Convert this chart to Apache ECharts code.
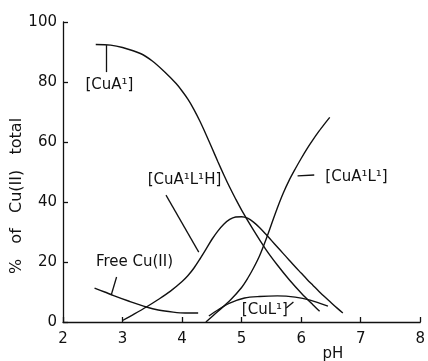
<!DOCTYPE html>
<html>
<head>
<meta charset="utf-8">
<script src="https://cdn.jsdelivr.net/npm/echarts@6/dist/echarts.min.js"></script>
<style>
  html, body { margin: 0; padding: 0; background: #fff; }
  #chart { width: 428px; height: 361px; }
</style>
</head>
<body>
<div id="chart"></div>
<script>
// values (pH vs % of total Cu(II))
var cuA1_pH   = [2.55, 2.8, 3.0, 3.3, 3.5, 3.7, 3.9, 4.0, 4.1, 4.2, 4.3, 4.4, 4.5, 4.6, 4.7, 4.8, 4.9, 5.0, 5.2, 5.4, 5.6, 5.8, 6.0, 6.2, 6.31];
var cuA1_pct  = [92.5, 92.3, 91.5, 89.5, 87, 83.5, 79.5, 77, 74.2, 70.8, 66.9, 62.6, 58.1, 53.5, 49.1, 44.9, 41, 37.3, 30.6, 24.4, 19, 14.1, 9.7, 5.7, 3.6];

var cuA1L1H_pH  = [3.0, 3.2, 3.4, 3.6, 3.8, 4.0, 4.1, 4.2, 4.3, 4.4, 4.5, 4.6, 4.7, 4.8, 4.9, 5.0, 5.1, 5.2, 5.3, 5.4, 5.5, 5.6, 5.7, 5.8, 5.9, 6.0, 6.1, 6.2, 6.3, 6.4, 6.5, 6.6, 6.7];
var cuA1L1H_pct = [0.5, 2.7, 5, 7.5, 10.2, 13.5, 15.5, 18, 21, 24.2, 27.5, 30.3, 32.6, 34.2, 35, 35.1, 34.6, 33.3, 31.5, 29.4, 27.2, 25, 22.8, 20.6, 18.4, 16.3, 14.2, 12.2, 10.2, 8.3, 6.5, 4.7, 3];

var cuA1L1_pH  = [4.4, 4.6, 4.82, 5.0, 5.1, 5.2, 5.3, 5.4, 5.5, 5.6, 5.7, 5.8, 5.9, 6.0, 6.1, 6.2, 6.3, 6.4, 6.48];
var cuA1L1_pct = [0, 3.5, 7.5, 11.5, 14.5, 18, 22, 27, 32.5, 38, 43, 47.3, 51, 54.5, 57.8, 60.8, 63.6, 66.2, 68.2];

var freeCu_pH  = [2.53, 2.7, 2.85, 3.1, 3.4, 3.6, 3.85, 4.05, 4.27];
var freeCu_pct = [11.3, 10, 8.8, 7, 5, 4, 3.3, 3, 3];

var cuL1_pH  = [4.45, 4.6, 4.8, 5.05, 5.3, 5.6, 5.9, 6.15, 6.45];
var cuL1_pct = [2, 4, 6.3, 8, 8.5, 8.7, 8.3, 7.3, 5.3];

var xTicks = [2, 3, 4, 5, 6, 7, 8];
var yTicks = [0, 20, 40, 60, 80, 100];

var font = 'DejaVu Sans';

function pairs(xs, ys) {
  return xs.map(function (x, i) { return [x, ys[i]]; });
}

// label text + its leader line, both in data coordinates
function tag(text, at, from, to) {
  return {
    markPoint: {
      symbol: 'circle',
      symbolSize: 0,
      silent: true,
      label: {
        show: true,
        position: 'inside',
        formatter: text,
        color: '#111',
        fontFamily: font,
        fontSize: 15
      },
      data: [{ coord: at }]
    },
    markLine: {
      symbol: 'none',
      silent: true,
      label: { show: false },
      lineStyle: { color: '#111', width: 1.3, type: 'solid' },
      data: [[{ coord: from }, { coord: to }]]
    }
  };
}

function curve(name, xs, ys, t) {
  var s = {
    name: name,
    type: 'line',
    smooth: 0.3,
    showSymbol: false,
    silent: true,
    lineStyle: { color: '#111', width: 1.4 },
    data: pairs(xs, ys)
  };
  s.markPoint = t.markPoint;
  s.markLine = t.markLine;
  return s;
}

var myChart = echarts.init(document.getElementById('chart'));

var option = {
  animation: false,
  backgroundColor: '#fff',
  grid: { left: 63, right: 3, top: 22, bottom: 39 },
  xAxis: {
    type: 'value',
    min: xTicks[0],
    max: xTicks[xTicks.length - 1],
    interval: 1,
    axisLine: { lineStyle: { color: '#111', width: 1.3 } },
    axisTick: { inside: true, length: 5, lineStyle: { color: '#111', width: 1.3 } },
    axisLabel: { color: '#111', fontFamily: font, fontSize: 15, margin: 10, showMaxLabel: true },
    splitLine: { show: false }
  },
  yAxis: {
    type: 'value',
    min: yTicks[0],
    max: yTicks[yTicks.length - 1],
    interval: 20,
    axisLine: { show: true, lineStyle: { color: '#111', width: 1.3 } },
    axisTick: { show: true, inside: true, length: 5, lineStyle: { color: '#111', width: 1.3 } },
    axisLabel: { color: '#111', fontFamily: font, fontSize: 15, margin: 6 },
    splitLine: { show: false }
  },
  graphic: [
    {
      type: 'text',
      x: 17, y: 196,
      rotation: Math.PI / 2,
      style: {
        text: '%   of   Cu(II)   total',
        font: '16px ' + font,
        fill: '#111',
        align: 'center',
        verticalAlign: 'middle'
      }
    },
    {
      type: 'text',
      x: 333, y: 354,
      style: {
        text: 'pH',
        font: '15px ' + font,
        fill: '#111',
        align: 'center',
        verticalAlign: 'middle'
      }
    }
  ],
  series: [
    curve('CuA1', cuA1_pH, cuA1_pct,
      tag('[CuA¹]', [2.78, 79], [2.73, 92.3], [2.73, 83.3])),
    curve('CuA1L1H', cuA1L1H_pH, cuA1L1H_pct,
      tag('[CuA¹L¹H]', [4.04, 47.3], [3.73, 42.3], [4.28, 23.3])),
    curve('CuA1L1', cuA1L1_pH, cuA1L1_pct,
      tag('[CuA¹L¹]', [6.93, 48.3], [5.94, 48.7], [6.22, 49])),
    curve('Free Cu(II)', freeCu_pH, freeCu_pct,
      tag('Free Cu(II)', [3.2, 20], [2.9, 15], [2.81, 9])),
    curve('CuL1', cuL1_pH, cuL1_pct,
      tag('[CuL¹]', [5.39, 4], [5.75, 4.7], [5.87, 6.7]))
  ]
};

myChart.setOption(option);
</script>
</body>
</html>
